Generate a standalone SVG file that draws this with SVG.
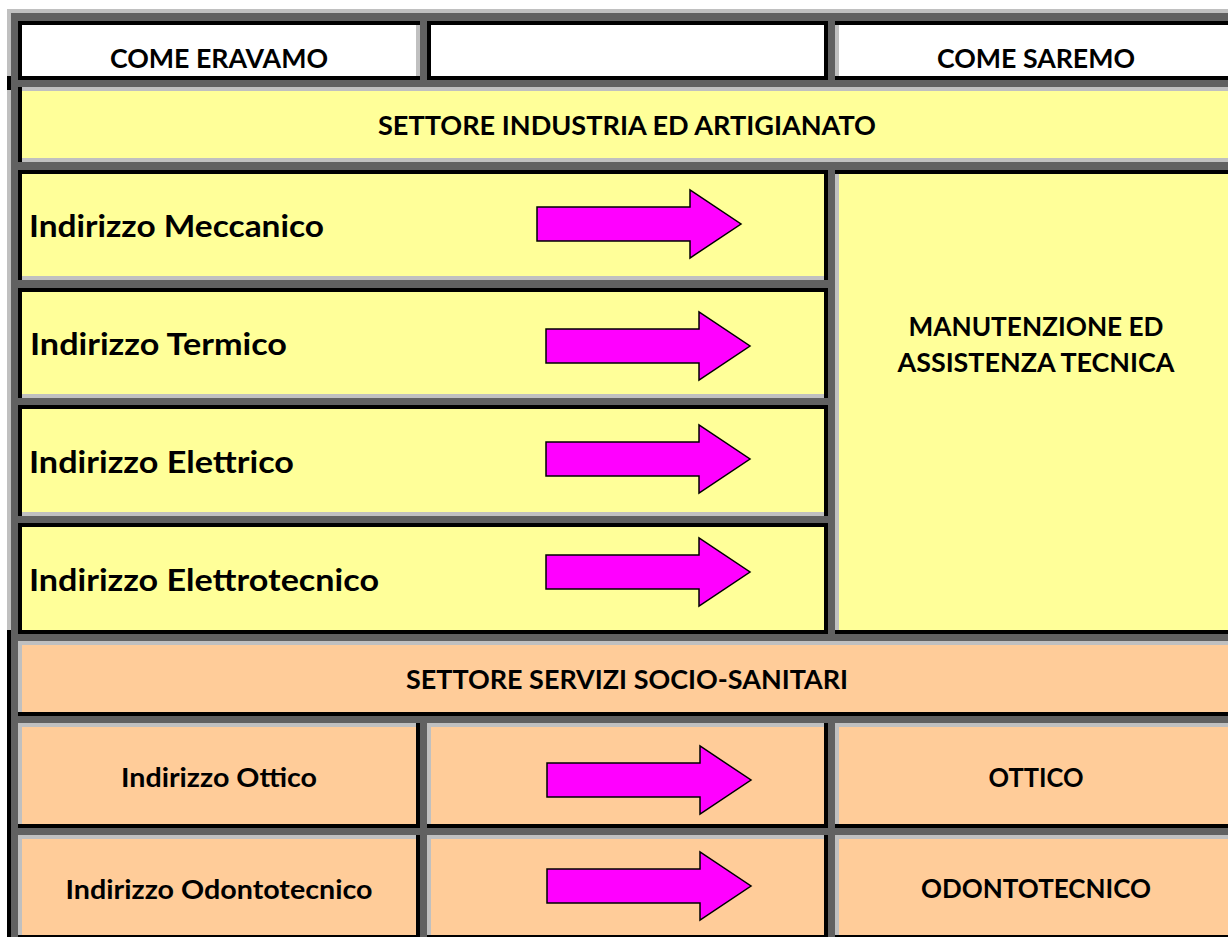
<svg xmlns="http://www.w3.org/2000/svg" xmlns:xlink="http://www.w3.org/1999/xlink" width="1228" height="937" viewBox="0 0 1228 937">
<style>
.bk{fill:#000}
.lg{fill:#c0c0c0}
.wh{fill:#fff}
.ye{fill:#ffff99}
.pe{fill:#ffcc99}
.t{font-family:Lato,"Liberation Sans",sans-serif;font-weight:700;fill:#000}
.h{font-size:26.5px;text-anchor:middle}
.l{font-size:31px}
.s{font-size:26.5px;text-anchor:middle}
</style>
<defs>
<path id="arr" d="M-204,-17 H-51 V-34 L0,0 L-51,34 V17 H-204 Z" fill="#ff00ff" stroke="#000" stroke-width="1.5" stroke-linejoin="miter"/>
</defs>
<rect x="0" y="0" width="1228" height="937" fill="#fff"/>
<g id="frame">
<rect x="11" y="13" width="1217" height="924" fill="#616161"/>
<rect class="lg" x="7" y="9" width="1221" height="4"/>
<rect class="lg" x="7" y="9" width="4" height="621"/>
<rect class="bk" x="7" y="630" width="4" height="307"/>
<rect class="bk" x="7" y="76" width="4" height="14"/>
</g>
<g id="cell-come-eravamo">
<rect class="wh" x="18" y="21" width="402" height="59"/>
<rect class="bk" x="18" y="21" width="402" height="4"/>
<rect class="bk" x="18" y="76" width="402" height="4"/>
<rect class="bk" x="18" y="21" width="4" height="59"/>
<rect class="lg" x="416" y="25" width="4" height="51"/>
<text class="t h" x="219" y="68" textLength="218" lengthAdjust="spacingAndGlyphs">COME ERAVAMO</text>
</g>
<g id="cell-header-middle">
<rect class="wh" x="427" y="21" width="401" height="59"/>
<rect class="bk" x="427" y="21" width="401" height="4"/>
<rect class="bk" x="427" y="76" width="401" height="4"/>
<rect class="bk" x="427" y="21" width="4" height="59"/>
<rect class="bk" x="824" y="21" width="4" height="59"/>
</g>
<g id="cell-come-saremo">
<rect class="wh" x="835" y="21" width="405" height="59"/>
<rect class="bk" x="835" y="21" width="405" height="4"/>
<rect class="bk" x="835" y="76" width="405" height="4"/>
<rect class="lg" x="835" y="25" width="4" height="51"/>
<text class="t h" x="1036" y="68" textLength="198" lengthAdjust="spacingAndGlyphs">COME SAREMO</text>
</g>
<g id="settore-industria">
<rect class="ye" x="18" y="87" width="1222" height="75"/>
<rect class="lg" x="18" y="87" width="1222" height="4"/>
<rect class="lg" x="18" y="158" width="1222" height="4"/>
<rect class="bk" x="18" y="87" width="4" height="75"/>
<text class="t h" x="627" y="135" textLength="498" lengthAdjust="spacingAndGlyphs">SETTORE INDUSTRIA ED ARTIGIANATO</text>
</g>
<g id="ind-meccanico">
<rect class="ye" x="18" y="170" width="810" height="110"/>
<rect class="bk" x="18" y="170" width="810" height="4"/>
<rect class="bk" x="18" y="170" width="4" height="110"/>
<rect class="bk" x="824" y="170" width="4" height="110"/>
<rect class="lg" x="22" y="276" width="802" height="4"/>
<rect class="bk" x="422" y="170" width="15" height="3"/>
<text class="t l" x="29" y="237" textLength="295" lengthAdjust="spacingAndGlyphs">Indirizzo Meccanico</text>
</g>
<g id="ind-termico">
<rect class="ye" x="18" y="288" width="810" height="110"/>
<rect class="bk" x="18" y="288" width="810" height="4"/>
<rect class="bk" x="18" y="288" width="4" height="110"/>
<rect class="bk" x="824" y="288" width="4" height="110"/>
<rect class="lg" x="22" y="394" width="802" height="4"/>
<text class="t l" x="30" y="355" textLength="257" lengthAdjust="spacingAndGlyphs">Indirizzo Termico</text>
</g>
<g id="ind-elettrico">
<rect class="ye" x="18" y="405" width="810" height="111"/>
<rect class="bk" x="18" y="405" width="810" height="4"/>
<rect class="bk" x="18" y="405" width="4" height="111"/>
<rect class="bk" x="824" y="405" width="4" height="111"/>
<rect class="lg" x="22" y="512" width="802" height="4"/>
<text class="t l" x="29" y="473" textLength="265" lengthAdjust="spacingAndGlyphs">Indirizzo Elettrico</text>
</g>
<g id="ind-elettrotecnico">
<rect class="ye" x="18" y="523" width="810" height="111"/>
<rect class="bk" x="18" y="523" width="810" height="4"/>
<rect class="bk" x="18" y="630" width="810" height="4"/>
<rect class="bk" x="18" y="523" width="4" height="111"/>
<rect class="bk" x="824" y="523" width="4" height="111"/>
<text class="t l" x="29" y="591" textLength="350" lengthAdjust="spacingAndGlyphs">Indirizzo Elettrotecnico</text>
</g>
<g id="manutenzione">
<rect class="ye" x="835" y="170" width="405" height="464"/>
<rect class="bk" x="835" y="170" width="405" height="4"/>
<rect class="bk" x="835" y="630" width="405" height="4"/>
<rect class="lg" x="835" y="174" width="4" height="456"/>
<text class="t s" x="1036" y="336" textLength="255" lengthAdjust="spacingAndGlyphs">MANUTENZIONE ED</text>
<text class="t s" x="1036" y="372" textLength="277" lengthAdjust="spacingAndGlyphs">ASSISTENZA TECNICA</text>
</g>
<g id="settore-servizi">
<rect class="pe" x="18" y="641" width="1222" height="75"/>
<rect class="lg" x="18" y="641" width="1222" height="4"/>
<rect class="lg" x="18" y="641" width="4" height="75"/>
<rect class="bk" x="18" y="712" width="1222" height="4"/>
<text class="t h" x="627" y="689" textLength="442" lengthAdjust="spacingAndGlyphs">SETTORE SERVIZI SOCIO-SANITARI</text>
</g>
<g id="ind-ottico">
<rect class="pe" x="18" y="723" width="402" height="105"/>
<rect class="lg" x="18" y="723" width="402" height="4"/>
<rect class="lg" x="18" y="723" width="4" height="105"/>
<rect class="bk" x="416" y="723" width="4" height="105"/>
<rect class="bk" x="18" y="824" width="402" height="4"/>
<text class="t h" x="219" y="787" textLength="196" lengthAdjust="spacingAndGlyphs">Indirizzo Ottico</text>
</g>
<g id="ottico-middle">
<rect class="pe" x="427" y="723" width="401" height="105"/>
<rect class="lg" x="427" y="723" width="401" height="4"/>
<rect class="lg" x="427" y="723" width="4" height="105"/>
<rect class="bk" x="824" y="723" width="4" height="105"/>
<rect class="bk" x="427" y="824" width="401" height="4"/>
</g>
<g id="ottico">
<rect class="pe" x="835" y="723" width="405" height="105"/>
<rect class="lg" x="835" y="723" width="405" height="4"/>
<rect class="lg" x="835" y="723" width="4" height="105"/>
<rect class="bk" x="835" y="824" width="405" height="4"/>
<text class="t h" x="1036" y="787" textLength="95" lengthAdjust="spacingAndGlyphs">OTTICO</text>
</g>
<g id="ind-odontotecnico">
<rect class="pe" x="18" y="835" width="402" height="105"/>
<rect class="lg" x="18" y="835" width="402" height="4"/>
<rect class="lg" x="18" y="835" width="4" height="105"/>
<rect class="bk" x="416" y="835" width="4" height="105"/>
<rect class="bk" x="18" y="935" width="402" height="4"/>
<text class="t h" x="219" y="899" textLength="307" lengthAdjust="spacingAndGlyphs">Indirizzo Odontotecnico</text>
</g>
<g id="odontotecnico-middle">
<rect class="pe" x="427" y="835" width="401" height="105"/>
<rect class="lg" x="427" y="835" width="401" height="4"/>
<rect class="lg" x="427" y="835" width="4" height="105"/>
<rect class="bk" x="824" y="835" width="4" height="105"/>
<rect class="bk" x="427" y="935" width="401" height="4"/>
</g>
<g id="odontotecnico">
<rect class="pe" x="835" y="835" width="405" height="105"/>
<rect class="lg" x="835" y="835" width="405" height="4"/>
<rect class="lg" x="835" y="835" width="4" height="105"/>
<rect class="bk" x="835" y="935" width="405" height="4"/>
<text class="t h" x="1036" y="898" textLength="230" lengthAdjust="spacingAndGlyphs">ODONTOTECNICO</text>
</g>
<g id="connectors">
<use href="#arr" x="741" y="224"/>
<use href="#arr" x="750" y="346"/>
<use href="#arr" x="750" y="459"/>
<use href="#arr" x="750" y="572"/>
<use href="#arr" x="751" y="780"/>
<use href="#arr" x="751" y="886"/>
</g>
</svg>
